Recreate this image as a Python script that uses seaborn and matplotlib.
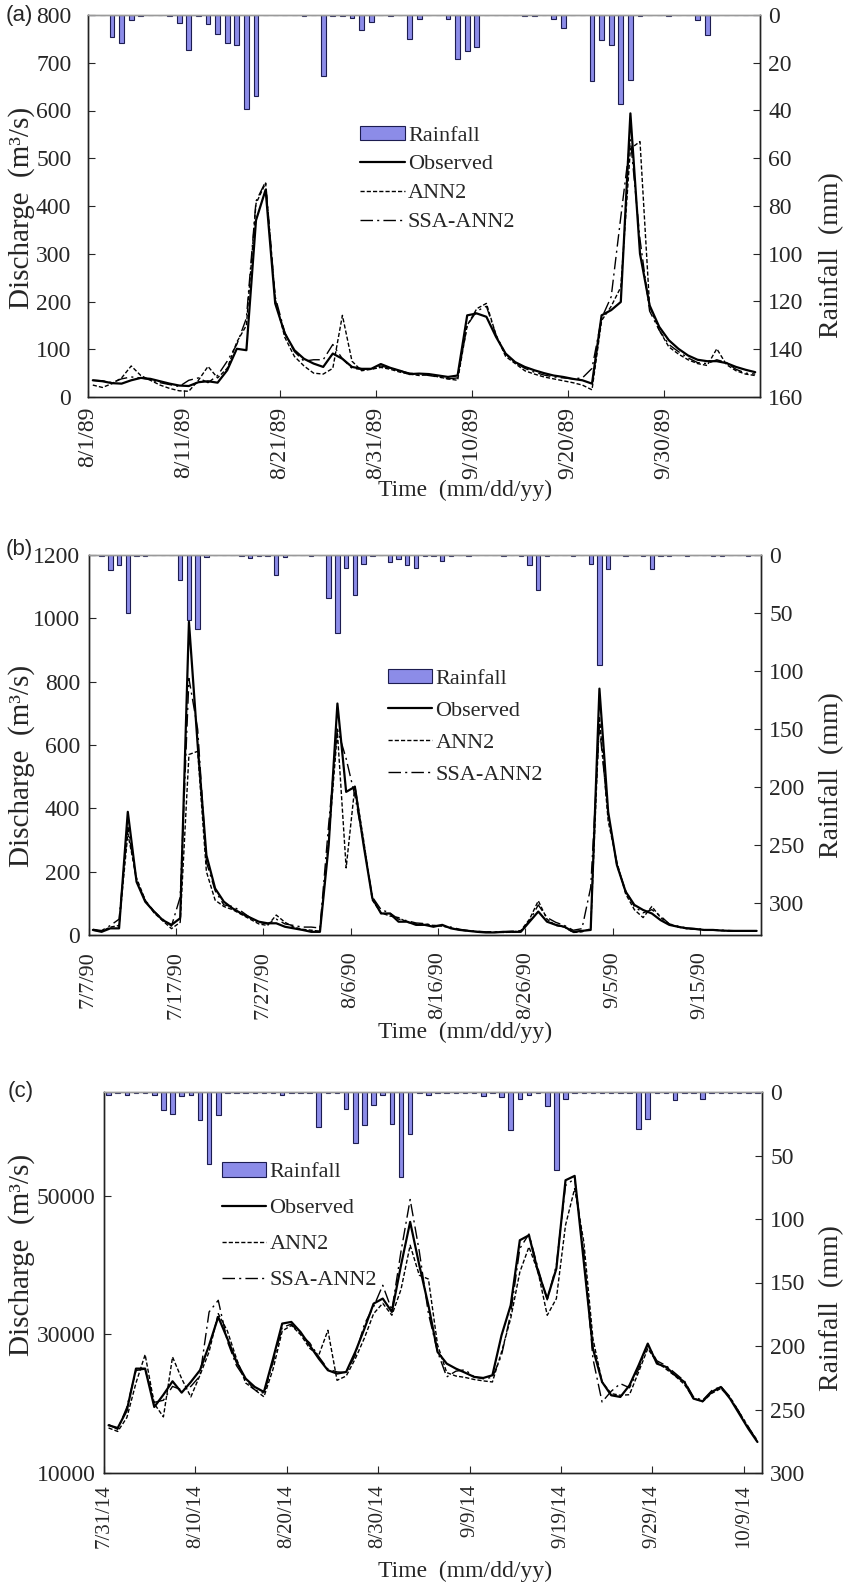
import numpy as np
import seaborn as sns
import matplotlib.pyplot as plt
from matplotlib.lines import Line2D

# ---------------- panel (a): 8/1/89 - 10/9/89 ----------------
dates_a = ['8/1/89', '8/11/89', '8/21/89', '8/31/89', '9/10/89', '9/20/89', '9/30/89']
rain_a = [0, 0, 9.4, 11.9, 2, 0.5, 0, 0, 0.3, 3.4,
          14.7, 0.5, 3.6, 8, 11.9, 12.6, 39.5, 34.1, 0, 0,
          0, 0, 0.3, 0, 25.5, 0.3, 0.5, 1.3, 6.2, 3.1,
          0, 0.5, 0, 10.1, 1.7, 0, 0, 1.7, 18.3, 15.2,
          13.6, 0, 0, 0, 0, 0.3, 0.3, 0, 1.7, 5.5,
          0, 0, 27.6, 10.5, 12.5, 37.4, 27.3, 0.5, 0, 0,
          0.3, 0, 0, 2.2, 8.3, 0, 0, 0, 0, 0]
obs_a = [35, 33, 29, 28, 35, 40, 38, 33, 28, 24,
         23, 31, 33, 30, 56, 101, 98, 370, 434, 196,
         133, 98, 80, 70, 63, 91, 80, 63, 59, 59,
         69, 61, 55, 48, 49, 48, 45, 42, 45, 171,
         175, 168, 126, 91, 73, 63, 56, 50, 45, 42,
         38, 35, 28, 171, 182, 199, 594, 300, 192, 147,
         119, 101, 87, 78, 75, 75, 71, 63, 57, 52]
ann_a = [25, 20, 28, 40, 65, 45, 35, 25, 18, 13,
         12, 35, 64, 40, 60, 115, 150, 405, 448, 205,
         125, 85, 65, 50, 48, 60, 171, 75, 55, 58,
         62, 58, 52, 48, 45, 47, 42, 38, 35, 150,
         185, 196, 130, 85, 70, 55, 48, 42, 38, 34,
         30, 25, 15, 160, 190, 230, 520, 535, 190, 140,
         105, 90, 78, 70, 66, 101, 68, 55, 48, 45]
ssa_a = [35, 34, 30, 38, 42, 40, 36, 30, 26, 22,
         35, 40, 30, 45, 75, 110, 165, 410, 451, 210,
         135, 95, 75, 78, 78, 110, 80, 60, 58, 58,
         65, 60, 55, 50, 48, 45, 42, 38, 40, 150,
         180, 190, 130, 90, 72, 60, 52, 46, 42, 40,
         38, 40, 60, 165, 210, 377, 540, 330, 180, 140,
         110, 95, 82, 72, 70, 78, 72, 58, 50, 48]

# ---------------- panel (b): 7/7/90 - 9/21/90 ----------------
dates_b = ['7/7/90', '7/17/90', '7/27/90', '8/6/90', '8/16/90', '8/26/90', '9/5/90', '9/15/90']
rain_b = [0, 0.5, 13.2, 8.3, 49.7, 0.5, 0.5, 0, 0, 0,
          21.3, 55.8, 64.1, 2, 0, 0, 0, 0.5, 2.6, 0.5,
          0.5, 17, 2, 0, 0, 0.5, 0, 36.8, 67, 10.9,
          34.2, 8, 0.5, 0, 6, 3.2, 8.9, 11.2, 0.5, 0.5,
          5.2, 0.5, 0, 0.5, 0, 0, 0, 1, 0, 0.5,
          8.3, 29.9, 0.5, 0, 0, 0.5, 0, 7.5, 94.6, 12.4,
          0, 0.5, 0, 0.5, 12.4, 0.5, 0.5, 0, 0.5, 0,
          0, 0.5, 1, 0, 0, 0.5, 0]
obs_b = [16, 10, 21, 21, 389, 168, 105, 74, 47, 32,
         53, 989, 600, 252, 147, 105, 84, 68, 55, 42,
         37, 37, 26, 21, 16, 10, 10, 284, 731, 452,
         468, 284, 116, 68, 68, 42, 42, 32, 32, 26,
         32, 21, 16, 13, 10, 8, 8, 10, 10, 10,
         42, 74, 42, 32, 26, 10, 13, 16, 778, 389,
         221, 137, 95, 79, 68, 47, 32, 26, 21, 19,
         16, 16, 14, 13, 13, 13, 13]
ann_b = [15, 12, 25, 30, 320, 180, 110, 70, 45, 20,
         40, 570, 580, 200, 110, 90, 80, 65, 50, 35,
         30, 63, 40, 25, 18, 15, 12, 300, 640, 212,
         470, 300, 110, 70, 60, 55, 40, 35, 35, 30,
         28, 22, 16, 12, 11, 9, 9, 8, 9, 14,
         50, 108, 50, 30, 25, 8, 10, 20, 690, 360,
         230, 130, 80, 55, 90, 55, 35, 25, 20, 18,
         16, 15, 14, 13, 13, 12, 12]
ssa_b = [18, 14, 30, 50, 340, 170, 110, 75, 50, 28,
         120, 810, 650, 230, 140, 95, 90, 75, 55, 40,
         35, 50, 35, 30, 25, 25, 22, 350, 650, 557,
         440, 290, 120, 80, 70, 50, 45, 38, 36, 30,
         30, 25, 18, 14, 12, 10, 10, 10, 12, 12,
         45, 95, 55, 40, 30, 15, 20, 150, 660, 380,
         220, 140, 90, 70, 80, 60, 35, 28, 22, 20,
         17, 16, 15, 14, 13, 13, 13]

# ---------------- panel (c): 7/31/14 - 10/10/14 ----------------
dates_c = ['7/31/14', '8/10/14', '8/20/14', '8/30/14', '9/9/14', '9/19/14', '9/29/14', '10/9/14']
rain_c = [2.6, 0.5, 2, 0.5, 0.5, 2, 14.4, 17.6, 3, 2.6,
          21.8, 57, 17.8, 1, 0.5, 0.5, 0.5, 0.5, 0.5, 2,
          0.5, 0.5, 0.5, 27.6, 0.5, 0.5, 13.7, 40.2, 25.7, 10,
          2, 25, 67, 33.3, 0.5, 2.6, 0.5, 0.5, 0.5, 0.5,
          0.5, 3.1, 1, 4, 30.2, 5.8, 2, 1, 11, 61.7,
          5.8, 0.5, 0.5, 0.5, 0.5, 1, 0.5, 1, 29.4, 21,
          1, 0.5, 6.6, 0.5, 0.5, 5.2, 0.5, 0.5, 0.5, 0.5,
          0.5, 0.5]
obs_c = [16890, 16500, 19050, 25070, 25070, 19530, 21300, 23240, 21600, 23140,
         24830, 28440, 32530, 29400, 26030, 23620, 22420, 21700, 26510, 31570,
         31810, 30360, 28440, 26510, 24830, 24350, 24590, 27480, 30850, 34450,
         35180, 33250, 39990, 46250, 40000, 34200, 27470, 25790, 25070, 24490,
         23870, 23720, 24110, 29880, 34210, 43600, 44320, 39030, 35180, 39510,
         52260, 52890, 40470, 27960, 23140, 21220, 20980, 22660, 25550, 28680,
         25790, 25310, 24110, 23140, 20740, 20350, 21700, 22420, 20740, 18570,
         16400, 14480]
ann_c = [16500, 16000, 18000, 23000, 27090, 20000, 18100, 26750, 23620, 20980,
         24110, 27500, 33000, 30500, 26500, 23000, 22000, 21000, 25000, 30500,
         31300, 30000, 28000, 27000, 30600, 23380, 24000, 26500, 29500, 33000,
         34500, 32770, 36500, 42880, 38550, 38000, 28500, 24500, 24000, 23800,
         23500, 23300, 23140, 27480, 32300, 39000, 42640, 39000, 32770, 35180,
         45770, 51060, 43360, 29400, 23140, 21460, 21220, 21300, 24590, 27960,
         26030, 25000, 24000, 22800, 20800, 20300, 21500, 22200, 20900, 18800,
         16600, 14700]
ssa_c = [17000, 16300, 19500, 24800, 25000, 20200, 20500, 22500, 22000, 22500,
         24000, 33250, 34930, 29000, 25500, 23500, 22000, 21500, 26000, 31000,
         31500, 30000, 28800, 26800, 25000, 24600, 24500, 27000, 31500, 34000,
         37100, 33500, 42000, 49480, 42000, 33000, 27500, 23870, 24700, 24900,
         23900, 23600, 23800, 27000, 33000, 42400, 44500, 39500, 35000, 40000,
         51500, 52500, 42000, 26500, 20250, 21800, 22900, 22300, 25000, 28500,
         26200, 25500, 24400, 23300, 21000, 20500, 21900, 22500, 21000, 18800,
         16700, 14500]

W, H = 843, 1584
sns.set_theme(style="ticks")
plt.rcParams['font.family'] = ['Liberation Serif', 'DejaVu Serif']

fig = plt.figure(figsize=(W / 100, H / 100), dpi=100)

BAR = '#8c8ce8'


def px(x0, y0, x1, y1):
    # pixel box -> figure rect
    return [x0 / W, 1 - y1 / H, (x1 - x0) / W, (y1 - y0) / H]


def panel(rect, obs, ann, ssa, rain, dates, ylim, yticks, ylabels, rmax, rticks,
          lpad, bpad, xsize, leg_xy, leg_space):
    ax = fig.add_axes(rect)
    ax2 = ax.twinx()
    n = len(obs)
    x = np.arange(n) + 0.5

    bars = ax2.bar(x, rain, width=0.5, color=BAR, edgecolor='#1c1c50', linewidth=0.8)
    ax2.set_ylim(rmax, 0)
    ax2.set_yticks(rticks)

    sns.lineplot(x=x, y=obs, ax=ax, color='black', linewidth=1.6)
    sns.lineplot(x=x, y=ann, ax=ax, color='black', linewidth=1.0, linestyle=(0, (3, 1.5)))
    sns.lineplot(x=x, y=ssa, ax=ax, color='black', linewidth=1.0, linestyle=(0, (9, 3, 1.5, 3)))
    ax.set_zorder(ax2.get_zorder() + 1)
    ax.patch.set_visible(False)

    ax.set_xlim(0, n)
    ax.set_ylim(*ylim)
    ax.set_yticks(yticks)
    ax.set_yticklabels(ylabels)
    ax.set_xticks(np.arange(len(dates)) * 10)
    ax.set_xticklabels(dates, rotation=90)
    ax.set_xlabel('')
    ax.set_ylabel('')

    ax.tick_params(axis='x', direction='in', length=5, width=0.8, pad=bpad, labelsize=xsize)
    ax.tick_params(axis='y', direction='in', length=5, width=0.8, pad=lpad, labelsize=17)
    ax2.tick_params(axis='y', direction='in', length=5, width=0.8, pad=6, labelsize=17)
    for a in (ax, ax2):
        for s in a.spines.values():
            s.set_visible(True)
            s.set_color('#222222')
            s.set_linewidth(1.0)
        a.spines['top'].set_color('#9a9a9a')

    handles = [bars,
               Line2D([], [], color='black', lw=1.6),
               Line2D([], [], color='black', lw=1.0, ls=(0, (3, 1.5))),
               Line2D([], [], color='black', lw=1.0, ls=(0, (9, 3, 1.5, 3)))]
    ax.legend(handles, ['Rainfall', 'Observed', 'ANN2', 'SSA-ANN2'],
              loc='upper left', bbox_to_anchor=leg_xy, frameon=False,
              fontsize=16, handlelength=2.0, handleheight=0.6, handletextpad=0.15,
              labelspacing=leg_space, borderpad=0, borderaxespad=0)
    return ax, ax2


panel(px(88, 15, 760, 397), obs_a, ann_a, ssa_a, rain_a, dates_a,
      (0, 800), range(0, 801, 100), [str(v) for v in range(0, 801, 100)],
      160, range(0, 161, 20), 12, 7, 17, (0.405, 0.71), 0.40)

panel(px(88.5, 555, 761, 935), obs_b, ann_b, ssa_b, rain_b, dates_b,
      (0, 1200), range(0, 1201, 200), [str(v) for v in range(0, 1201, 200)],
      328, range(0, 301, 50), 6, 11.5, 16, (0.445, 0.70), 0.54)

panel(px(104, 1092, 762, 1473), obs_c, ann_c, ssa_c, rain_c, dates_c,
      (10000, 65000), [10000, 30000, 50000], ['10000', '30000', '50000'],
      300, range(0, 301, 50), 6, 8, 15, (0.179, 0.815), 0.72)


def ftext(x, y, s, **kw):
    fig.text(x / W, 1 - y / H, s, ha='center', va='center', **kw)


for yc in (208, 766, 1255):
    ftext(22, yc, 'Discharge  (m³/s)', rotation=90, fontsize=21)
for yc in (255, 775, 1308):
    ftext(832, yc, 'Rainfall  (mm)', rotation=90, fontsize=20)
for yc in (490, 1032, 1571):
    ftext(465, yc, 'Time  (mm/dd/yy)', fontsize=17)

ftext(19, 15, '(a)', fontsize=16, family='Liberation Sans')
ftext(19, 549, '(b)', fontsize=16, family='Liberation Sans')
ftext(21, 1092, '(c)', fontsize=16, family='Liberation Sans')

fig.savefig('out.png', dpi=100)
